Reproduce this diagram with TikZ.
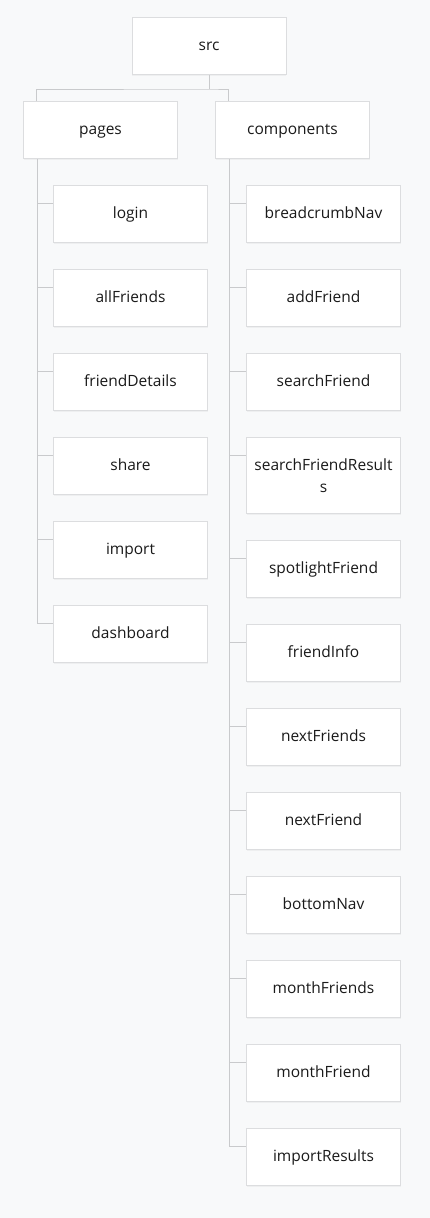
\documentclass[tikz,border=0pt]{standalone}
\usepackage{fontspec}
\setmainfont{Open Sans}
\usetikzlibrary{positioning,shadows}
\definecolor{pagebg}{HTML}{F8F9FA}
\definecolor{boxline}{HTML}{DCDDDF}
\definecolor{connline}{HTML}{C9CACC}
\definecolor{boxtext}{HTML}{1A1A1A}

\begin{document}
\begin{tikzpicture}[x=1pt, y=-1pt, font=\fontsize{15.5}{22}\selectfont, folder/.style={draw=boxline, line width=1pt, fill=white, text=boxtext, minimum width=154pt, minimum height=57pt, inner sep=0pt, text height=1.05em, text depth=0.25em, drop shadow={opacity=0.08, shadow xshift=0pt, shadow yshift=-1.5pt}}, conn/.style={draw=connline, line width=1pt}]
\fill[pagebg] (0,0) rectangle (430,1218);
\node[folder] (src) at (209,46) {src};
\node[folder, below=26pt of src, xshift=-108.5pt] (pages) {pages};
\node[folder, below=26pt of src, xshift=83.5pt] (components) {components};
% pages children
\node[folder, below right=26pt and 30pt of pages.south west] (login) {login};
\node[folder, below=26pt of login] (allFriends) {allFriends};
\node[folder, below=26pt of allFriends] (friendDetails) {friendDetails};
\node[folder, below=26pt of friendDetails] (share) {share};
\node[folder, below=26pt of share] (import) {import};
\node[folder, below=26pt of import] (dashboard) {dashboard};
% components children
\node[folder, below right=26pt and 31pt of components.south west] (breadcrumbNav) {breadcrumbNav};
\node[folder, below=26pt of breadcrumbNav] (addFriend) {addFriend};
\node[folder, below=26pt of addFriend] (searchFriend) {searchFriend};
\node[folder, below=26pt of searchFriend, minimum height=76pt, align=center, text height={}, text depth={}] (searchFriendResults) {searchFriendResult\\s};
\node[folder, below=26pt of searchFriendResults] (spotlightFriend) {spotlightFriend};
\node[folder, below=26pt of spotlightFriend] (friendInfo) {friendInfo};
\node[folder, below=26pt of friendInfo] (nextFriends) {nextFriends};
\node[folder, below=26pt of nextFriends] (nextFriend) {nextFriend};
\node[folder, below=26pt of nextFriend] (bottomNav) {bottomNav};
\node[folder, below=26pt of bottomNav] (monthFriends) {monthFriends};
\node[folder, below=26pt of monthFriends] (monthFriend) {monthFriend};
\node[folder, below=26pt of monthFriend] (importResults) {importResults};
% connectors
\draw[conn] (src.south) -- ++(0,14) coordinate (fork);
\draw[conn] ([xshift=13pt]pages.north west) |- (fork) -| ([xshift=13pt]components.north west);
\foreach \child in {login,allFriends,friendDetails,share,import,dashboard}
  \draw[conn] ([xshift=14pt]pages.south west) |- ([yshift=-18pt]\child.north west);
\foreach \child in {breadcrumbNav,addFriend,searchFriend,searchFriendResults,spotlightFriend,friendInfo,nextFriends,nextFriend,bottomNav,monthFriends,monthFriend,importResults}
  \draw[conn] ([xshift=14pt]components.south west) |- ([yshift=-18pt]\child.north west);
\end{tikzpicture}
\end{document}
